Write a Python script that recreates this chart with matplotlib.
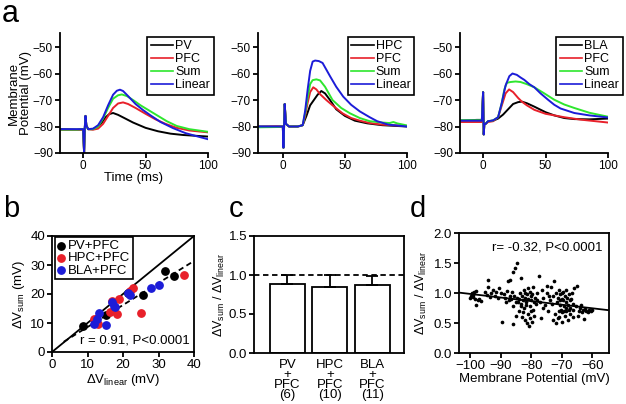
import numpy as np
import matplotlib
matplotlib.use("Agg")
import matplotlib.pyplot as plt

plt.rcParams['font.family'] = ['Liberation Sans', 'DejaVu Sans']
plt.rcParams['mathtext.fontset'] = 'custom'
plt.rcParams['mathtext.rm'] = 'Liberation Sans'
plt.rcParams['mathtext.it'] = 'Liberation Sans:italic'
plt.rcParams['axes.linewidth'] = 1.3
plt.rcParams['xtick.major.width'] = 1.3
plt.rcParams['ytick.major.width'] = 1.3
plt.rcParams['xtick.major.size'] = 3.5
plt.rcParams['ytick.major.size'] = 3.5

BLACK = '#000000'
RED = '#e8202a'
GREEN = '#2ee62e'
BLUE = '#1c1cd8'

# ---------------- panel a data (traces) ----------------
# a1: PV + PFC
a1_pv_t = [-18, -5, 0, 0.8, 1.3, 1.9, 2.6, 4, 8, 12, 15, 18, 21, 24, 28, 33, 40, 50, 60, 70, 80, 90, 100]
a1_pv_v = [-81, -81.2, -81, -90, -81, -76, -79.5, -81, -81, -80, -78.5, -76.5, -75.3, -74.9, -75.6, -76.8,
           -78.5, -80.5, -81.8, -82.7, -83.2, -83.5, -83.8]
a1_pfc_t = [-18, -5, 0, 0.8, 1.3, 1.9, 2.6, 4, 8, 12, 16, 20, 24, 28, 32, 36, 42, 50, 58, 66, 75, 85, 100]
a1_pfc_v = [-81.3, -81.3, -81.2, -90, -81, -76, -79.5, -81, -81.2, -80.8, -79, -76, -73, -71.3, -70.9, -71.5,
            -73, -75.2, -77.3, -79, -80.5, -81.5, -82.2]
a1_sum_t = [-18, -5, 0, 0.8, 1.3, 1.9, 2.6, 4, 8, 12, 16, 20, 24, 28, 31, 35, 40, 46, 53, 60, 67, 75, 85, 100]
a1_sum_v = [-81.2, -81.2, -81, -90, -81, -76, -79.5, -81, -81, -80, -77, -73, -69.5, -68.2, -67.9, -68.5,
            -70, -72, -74, -76, -78, -79.8, -81, -82]
a1_lin_t = [-18, -5, 0, 0.8, 1.3, 1.9, 2.6, 4, 8, 12, 16, 20, 24, 27, 29.5, 32, 36, 42, 48, 54, 62, 72, 82, 92, 100]
a1_lin_v = [-81, -81, -81, -90, -81, -76, -79.5, -81, -80.8, -79.5, -76.5, -72, -68, -66.5, -66.1, -66.6,
            -68.5, -71.5, -73.8, -75.8, -78.3, -80.6, -82.5, -83.8, -84.8]

# a2: HPC + PFC
a2_hpc_t = [-20, -5, 0, 0.5, 1, 1.5, 2.5, 5, 12, 16, 19, 22, 25, 28, 31, 34, 38, 43, 50, 58, 68, 80, 100]
a2_hpc_v = [-80, -80, -80, -88, -80, -71.5, -79, -80, -80, -79.5, -76, -72, -70, -68, -66.6, -67.5, -70,
            -73.5, -76, -77.8, -78.8, -79.5, -80]
a2_pfc_t = [-20, -5, 0, 0.5, 1, 1.5, 2.5, 5, 12, 16, 18, 20, 22, 24.5, 27, 30, 35, 40, 48, 55, 62, 70, 80, 100]
a2_pfc_v = [-80.2, -80, -80, -88, -80, -71.5, -79, -80, -80, -79.5, -76, -71, -67, -65.2, -66, -67.8, -70,
            -72, -75, -76.8, -77.8, -78.7, -79.3, -79.8]
a2_sum_t = [-20, -5, 0, 0.5, 1, 1.5, 2.5, 5, 12, 16, 18, 20, 22, 24, 27, 30, 34, 40, 47, 54, 62, 70, 80, 86,
            89, 92, 100]
a2_sum_v = [-80.3, -80.2, -80, -88, -80, -71.5, -79, -80, -80, -79.5, -75, -69, -64, -62.5, -62.2, -62.6,
            -65, -70, -73, -75, -76.8, -78, -78.5, -78.7, -78.3, -78.8, -79.6]
a2_lin_t = [-20, -5, 0, 0.5, 1, 1.5, 2.5, 5, 12, 16, 18, 20, 22, 24, 26, 29, 32, 35, 38, 43, 48.6, 55, 62,
            70, 76, 85, 100]
a2_lin_v = [-80, -80, -80, -88, -80, -71.5, -79, -80, -80, -79.5, -74, -66, -59, -55.5, -55.1, -55.3, -56,
            -58.5, -61, -65, -68.7, -71.8, -74.3, -76.5, -78, -79.3, -80]

# a3: BLA + PFC
a3_bla_t = [-18, -5, -1, 0, 0.5, 1, 2, 4, 8, 12, 16, 20, 24, 28, 31, 35, 41, 50, 57, 65, 73, 85, 100]
a3_bla_v = [-77.8, -77.5, -77.5, -67, -83, -79, -79, -78, -77.8, -77, -75.5, -73.5, -71.5, -70.8, -70.6,
            -71.2, -72.5, -74.6, -75.8, -76.8, -77.2, -77.3, -77]
a3_pfc_t = [-18, -5, -1, 0, 0.5, 1, 2, 4, 8, 12, 15, 18, 20.8, 24, 28, 31, 35, 41, 50, 57, 65, 78, 90, 100]
a3_pfc_v = [-78.3, -78.3, -78.3, -67, -83, -79, -79, -78.3, -78, -76.5, -72, -67.5, -66, -67, -69.2, -70.6,
            -72, -73.7, -75.2, -75.8, -76.5, -77.4, -78, -78.5]
a3_sum_t = [-18, -5, -1, 0, 0.5, 1, 2, 4, 8, 12, 15, 17, 19, 22, 26, 30, 35, 41, 49, 57, 65, 73, 85, 100]
a3_sum_v = [-77.6, -77.6, -77.6, -67, -83, -79, -79, -78, -77.7, -76.5, -71, -66, -63.5, -63.2, -63, -63.2,
            -64, -65.2, -67.5, -69.9, -71.7, -73, -74.8, -76.3]
a3_lin_t = [-18, -5, -1, 0, 0.5, 1, 2, 4, 8, 12, 15, 18, 21, 23.5, 27, 30, 33, 37, 41, 46, 52, 57, 62, 73, 85, 100]
a3_lin_v = [-77.8, -77.8, -77.8, -67, -83, -79, -79, -78, -77.7, -76.5, -71, -64.5, -61, -60, -60.5, -61.5,
            -62.4, -64, -65.2, -67.5, -69.9, -71.8, -73.2, -74.9, -75.8, -76.6]

# ---------------- panel b data ----------------
pv_lin = [8.7, 15.2, 21.5, 25.5, 31.8, 34.3]
pv_sum = [9.0, 12.6, 20.3, 19.8, 28.0, 26.1]
hpc_lin = [11.7, 13.0, 16.3, 16.8, 18.2, 18.9, 22.9, 25.2, 37.2, 22.0]
hpc_sum = [11.3, 9.8, 13.8, 17.5, 13.2, 18.2, 22.0, 13.6, 26.6, 21.0]
bla_lin = [11.7, 12.6, 13.2, 15.2, 17.0, 17.5, 17.8, 21.5, 21.9, 28.0, 30.2]
bla_sum = [9.8, 11.5, 13.3, 9.3, 17.2, 16.0, 15.5, 20.5, 19.7, 22.2, 23.0]
b_fit_slope = 0.76
b_fit_intercept = 1.0
b_fit_range = [3.3, 40]

# ---------------- panel c data ----------------
c_labels = ['PV\n+\nPFC\n(6)', 'HPC\n+\nPFC\n(10)', 'BLA\n+\nPFC\n(11)']
c_means = [0.89, 0.85, 0.87]
c_sem = [0.11, 0.15, 0.12]

# ---------------- panel d data ----------------
d_vm = [-99.5, -99, -99, -98.8, -98.5, -98, -97.5, -97, -96.5, -99.8, -98.2, -100,
        -95, -94.5, -94, -93.5, -93, -92.5, -92, -91.5, -91, -90.5, -94, -90,
        -89.5, -89, -88.5, -88, -87.5, -87, -86.8, -86.5, -86, -86, -85.5, -85.2, -85, -85, -84.5, -84.5,
        -85.8, -87.2, -88.2, -86.3,
        -84, -84, -83.8, -83.5, -83.5, -83, -83, -82.8, -82.5, -82.5, -82.2, -82, -82, -81.8, -81.5, -81.5,
        -81.2, -81, -81, -80.8, -80.5, -80.5, -80.3, -80, -80, -79.8, -79.5, -79.5, -79.2, -79, -78.8, -78.5,
        -83.2, -84.2, -82.7, -81.7, -80.2, -79.7, -78.2, -78,
        -77.5, -77, -76.8, -76.5, -76, -75.5, -75, -74.8, -74.5, -74, -73.5, -73.2, -73, -72.8, -72.5, -72.2,
        -72, -71.8, -76.3, -74.2,
        -71.5, -71.2, -71, -71, -70.8, -70.5, -70.5, -70.2, -70, -70, -69.8, -69.8, -69.5, -69.5, -69.2, -69,
        -69, -68.8, -68.5, -68.5, -68.2, -68, -68, -67.8, -67.5, -67.5, -67.2, -67, -66.8, -66.5, -66.5, -66.2,
        -66, -65.5, -65, -71.3, -70.7, -69.3, -68.7, -67.7,
        -64.5, -64, -63.5, -63, -62.8, -62.5, -62, -61.5, -61, -60.5, -60, -64.8, -63.8]
d_ratio = [1.0, 0.97, 0.93, 1.02, 0.9, 0.8, 0.88, 0.9, 0.87, 0.95, 1.04, 0.92,
           1.02, 0.97, 1.22, 0.93, 1.0, 1.05, 0.95, 1.02, 0.92, 1.08, 1.1, 1.0,
           0.52, 0.98, 0.92, 1.03, 1.2, 0.95, 1.22, 0.9, 0.48, 1.35, 0.95, 1.42, 0.85, 0.62, 1.5, 0.92,
           0.78, 0.88, 0.85, 1.02,
           0.9, 0.7, 1.0, 0.82, 1.25, 0.95, 0.6, 0.88, 1.05, 0.75, 0.92, 0.55, 1.0, 0.85, 0.5, 0.98,
           1.08, 0.65, 0.9, 0.45, 0.78, 1.02, 0.58, 0.88, 0.95, 0.52, 0.72, 1.1, 0.85, 0.62, 0.92, 0.82,
           0.78, 0.85, 0.68, 0.8, 0.7, 0.98, 0.88, 1.0,
           1.28, 0.85, 0.58, 1.05, 0.92, 0.8, 1.12, 1.0, 0.7, 0.88, 1.1, 0.82, 0.55, 0.95, 1.2, 0.65,
           1.0, 0.5, 0.75, 0.95,
           0.85, 0.92, 0.7, 1.05, 0.6, 0.98, 0.8, 0.72, 0.9, 1.0, 0.52, 0.68, 0.88, 1.02, 0.78, 0.95,
           0.62, 0.85, 0.7, 1.05, 0.92, 0.55, 0.8, 0.98, 0.88, 0.65, 0.75, 0.9, 1.0, 0.82, 0.6, 0.72,
           1.08, 0.78, 1.12, 0.58, 0.88, 0.7, 0.75, 0.72,
           0.7, 0.75, 0.68, 0.72, 0.56, 0.74, 0.7, 0.68, 0.72, 0.7, 0.71, 0.62, 0.8]
d_fit_slope = -0.006
d_fit_intercept = 0.385

W, H = 626, 404
fig = plt.figure(figsize=(W / 100, H / 100), dpi=100)


def px_axes(left, top, right, bottom):
    return fig.add_axes([left / W, 1 - bottom / H, (right - left) / W, (bottom - top) / H])


def open_axes(ax):
    ax.spines['top'].set_visible(False)
    ax.spines['right'].set_visible(False)


# ---------------- panel a ----------------
traces = [
    ('PV', a1_pv_t, a1_pv_v, a1_pfc_t, a1_pfc_v, a1_sum_t, a1_sum_v, a1_lin_t, a1_lin_v),
    ('HPC', a2_hpc_t, a2_hpc_v, a2_pfc_t, a2_pfc_v, a2_sum_t, a2_sum_v, a2_lin_t, a2_lin_v),
    ('BLA', a3_bla_t, a3_bla_v, a3_pfc_t, a3_pfc_v, a3_sum_t, a3_sum_v, a3_lin_t, a3_lin_v),
]
a_boxes = [(60, 33, 208, 153), (258, 33, 407, 153), (460, 33, 608, 153)]
a_xlims = [(-18.5, 100), (-20, 100), (-18.5, 100)]
a_leg_x = [1.04, 1.05, 1.10]

for i, (name, t0, v0, t1, v1, t2, v2, t3, v3) in enumerate(traces):
    ax = px_axes(*a_boxes[i])
    ax.plot(t0, v0, color=BLACK, lw=1.4, label=name)
    ax.plot(t1, v1, color=RED, lw=1.4, label='PFC')
    ax.plot(t2, v2, color=GREEN, lw=1.4, label='Sum')
    ax.plot(t3, v3, color=BLUE, lw=1.4, label='Linear')
    ax.set_xlim(*a_xlims[i])
    ax.set_ylim(-90, -44.7)
    ax.set_xticks([0, 50, 100])
    ax.set_yticks([-90, -80, -70, -60, -50])
    ax.tick_params(labelsize=8.5, pad=1.5)
    open_axes(ax)
    leg = ax.legend(loc='upper right', bbox_to_anchor=(a_leg_x[i], 0.97), fontsize=9,
                    handlelength=1.8, handletextpad=0.15, labelspacing=0.08, borderpad=0.3,
                    borderaxespad=0, fancybox=False, framealpha=1)
    leg.get_frame().set_edgecolor('black')
    leg.get_frame().set_linewidth(1.2)
    for line in leg.get_lines():
        line.set_linewidth(1.2)
    if i == 0:
        ax.set_xlabel('Time (ms)', fontsize=9.5, labelpad=0)
        ax.set_ylabel('Membrane\nPotential (mV)', fontsize=9.5, labelpad=1, linespacing=1.0)

fig.text(2 / W, 1 - 22 / H, 'a', fontsize=22, va='baseline', ha='left')

# ---------------- panel b ----------------
axb = px_axes(52, 236, 194, 352)
axb.plot([0, 40], [0, 40], color='black', lw=1.3)
bx = np.array(b_fit_range)
axb.plot(bx, b_fit_slope * bx + b_fit_intercept, color='black', lw=1.3, ls=(0, (3, 2)))
axb.scatter(pv_lin, pv_sum, s=28, color=BLACK, zorder=3, label='PV+PFC')
axb.scatter(hpc_lin, hpc_sum, s=28, color=RED, zorder=3, label='HPC+PFC')
axb.scatter(bla_lin, bla_sum, s=28, color=BLUE, zorder=3, label='BLA+PFC')
axb.set_xlim(0, 40)
axb.set_ylim(0, 40)
axb.set_xticks([0, 10, 20, 30, 40])
axb.set_yticks([0, 10, 20, 30, 40])
axb.tick_params(labelsize=9.5, pad=1.5)
axb.set_xlabel('ΔV$_{\\mathrm{linear}}$ (mV)', fontsize=9.5, labelpad=1)
axb.set_ylabel('ΔV$_{\\mathrm{sum}}$ (mV)', fontsize=9.5, labelpad=2)
axb.text(0.97, 0.05, 'r = 0.91, P<0.0001', transform=axb.transAxes, ha='right', va='bottom', fontsize=9.5)
lgb = axb.legend(loc='upper left', bbox_to_anchor=(0.02, 0.99), fontsize=9.5, handlelength=0.6,
                 handletextpad=0.2, labelspacing=0.0, borderpad=0.2, borderaxespad=0,
                 fancybox=False, framealpha=1, scatterpoints=1)
lgb.get_frame().set_edgecolor('black')
lgb.get_frame().set_linewidth(1.2)
fig.text(3 / W, 1 - 217 / H, 'b', fontsize=21, va='baseline', ha='left')

# ---------------- panel c ----------------
axc = px_axes(254, 236, 404, 353)
xc = np.arange(len(c_means))
axc.bar(xc, c_means, width=0.82, color='white', edgecolor='black', linewidth=1.3, zorder=2)
axc.errorbar(xc, c_means, yerr=[np.zeros(len(c_sem)), c_sem], fmt='none', ecolor='black',
             elinewidth=1.3, capsize=4, capthick=1.3, zorder=3)
axc.axhline(1.0, color='black', lw=1.3, ls=(0, (3, 2)), zorder=1)
axc.set_xlim(-0.79, 2.75)
axc.set_ylim(0, 1.5)
axc.set_yticks([0.0, 0.5, 1.0, 1.5])
axc.set_yticklabels(['0.0', '0.5', '1.0', '1.5'])
axc.set_xticks(xc)
axc.set_xticklabels(c_labels, fontsize=9.5, linespacing=0.8)
axc.tick_params(axis='x', length=0, pad=4)
axc.tick_params(axis='y', labelsize=9.5, pad=1.5)
axc.set_ylabel('ΔV$_{\\mathrm{sum}}$ / ΔV$_{\\mathrm{linear}}$', fontsize=9, labelpad=1)
fig.text(229 / W, 1 - 217 / H, 'c', fontsize=21, va='baseline', ha='left')

# ---------------- panel d ----------------
axd = px_axes(459, 233, 609, 353)
axd.scatter(d_vm, d_ratio, s=7, color='black', linewidths=0, zorder=3)
dx = np.array([-104, -55])
axd.plot(dx, d_fit_slope * dx + d_fit_intercept, color='black', lw=1.3)
axd.set_xlim(-103.6, -54.6)
axd.set_ylim(0, 2.0)
axd.set_xticks([-100, -90, -80, -70, -60])
axd.set_yticks([0.0, 0.5, 1.0, 1.5, 2.0])
axd.set_yticklabels(['0.0', '0.5', '1.0', '1.5', '2.0'])
axd.tick_params(labelsize=9.5, pad=1.5)
axd.set_xlabel('Membrane Potential (mV)', fontsize=9.5, labelpad=1)
axd.set_ylabel('ΔV$_{\\mathrm{sum}}$ / ΔV$_{\\mathrm{linear}}$', fontsize=9, labelpad=3)
axd.text(0.96, 0.93, 'r= -0.32, P<0.0001', transform=axd.transAxes, ha='right', va='top', fontsize=9.5)
fig.text(410 / W, 1 - 217 / H, 'd', fontsize=21, va='baseline', ha='left')

fig.savefig('out.png', dpi=100)
